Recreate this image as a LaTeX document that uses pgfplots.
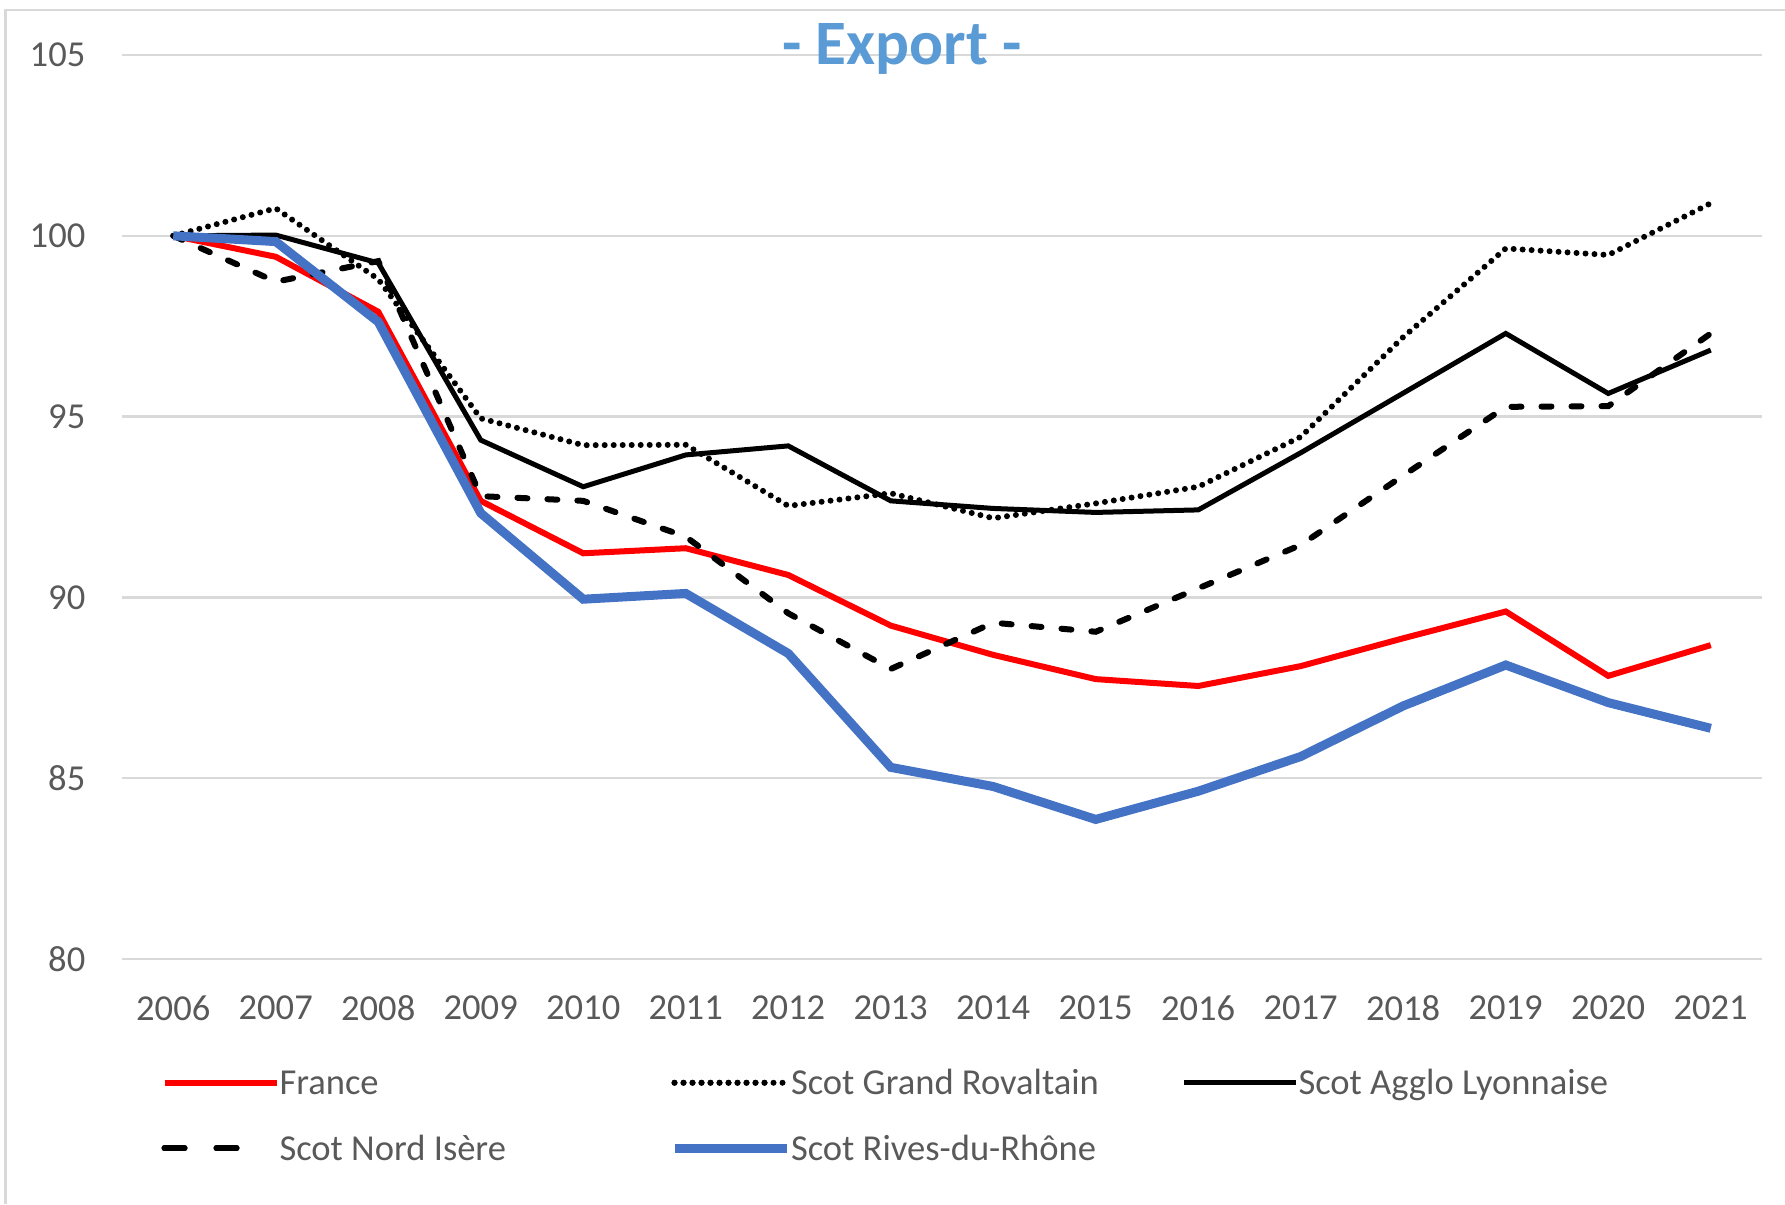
\documentclass[border=0pt]{standalone}
\usepackage{fontspec}
\setmainfont{Carlito}
\usepackage{pgfplots}
\usepackage{pgfplotstable}
\pgfplotsset{compat=1.18}
\definecolor{gridgray}{HTML}{D9D9D9}
\definecolor{ticktext}{HTML}{595959}
\definecolor{myblue}{HTML}{4472C4}
\definecolor{myred}{HTML}{FF0000}
\definecolor{titleblue}{HTML}{5B9BD5}
\newcommand{\lgt}[1]{\makebox[39.05mm][l]{\vrule height 3.1mm depth 0.75mm width 0pt #1}}
\pgfplotstableread{
year fr gr al ni rr
2006 100.00 100.00 100.00 100.00 100.00
2007 99.42 100.76 100.02 98.73 99.84
2008 97.90 98.80 99.25 99.30 97.62
2009 92.67 94.95 94.35 92.80 92.33
2010 91.22 94.21 93.06 92.67 89.95
2011 91.36 94.22 93.94 91.68 90.11
2012 90.62 92.53 94.19 89.56 88.45
2013 89.22 92.88 92.67 88.02 85.30
2014 88.41 92.19 92.46 89.30 84.77
2015 87.74 92.60 92.35 89.05 83.86
2016 87.55 93.06 92.42 90.25 84.64
2017 88.10 94.44 94.00 91.45 85.60
2018 88.87 97.20 95.65 93.37 87.00
2019 89.61 99.65 97.30 95.27 88.13
2020 87.83 99.47 95.64 95.29 87.09
2021 88.68 100.90 96.84 97.30 86.38
}\data
\begin{document}
\begin{tikzpicture}
\useasboundingbox (0,0) rectangle (178.5mm,120.4mm);
\draw[gridgray, line width=0.25mm] (0.55mm,0) -- (0.55mm,119.4mm) -- (178.5mm,119.4mm);
\begin{axis}[
  at={(12.2mm,24.5mm)}, anchor=south west,
  scale only axis, width=164mm, height=90.4mm,
  xmin=2005.5, xmax=2021.5, ymin=80, ymax=105,
  xtick={2006,2007,...,2021}, ytick={80,85,...,105},
  axis line style={draw=none},
  major tick length=0pt,
  ymajorgrids,
  major grid style={gridgray, line width=0.25mm},
  /pgf/number format/1000 sep={},
  /pgf/number format/assume math mode=true,
  ticklabel style={font=\fontsize{10.4}{12.5}\selectfont, text=ticktext, inner sep=0pt},
  yticklabel style={anchor=east, xshift=-3.6mm},
  xticklabel style={anchor=north, yshift=-3.6mm},
  clip=false,
  legend columns=3,
  legend style={at={(rel axis cs:0,0)}, anchor=north west, xshift=3.95mm, yshift=-10.45mm,
    draw=none, fill=none, inner sep=0pt, outer sep=0pt, row sep=2.71mm, column sep=0pt,
    font=\fontsize{10.4}{12.5}\selectfont, text=ticktext,
    nodes={inner sep=0pt, text depth={}},
    cells={anchor=west}},
  legend image code/.code={\draw[#1] (0mm,0mm) -- (9.5mm,0mm); \path (0mm,0mm) -- (11.2mm,0mm);},
]
\addplot[myred, line width=0.6mm] table[x=year,y=fr] {\data};
\addlegendentry{\lgt{France}}
\addplot[black, line width=0.6mm, line cap=round, dash pattern=on 0pt off 0.9mm] table[x=year,y=gr] {\data};
\addlegendentry{\lgt{Scot Grand Rovaltain}}
\addplot[black, line width=0.5mm] table[x=year,y=al] {\data};
\addlegendentry{\lgt{Scot Agglo Lyonnaise}}
\addplot[black, line width=0.6mm, line cap=round, dash pattern=on 1.0mm off 2.0mm, forget plot] table[x=year,y=ni] {\data};
\addlegendimage{black, line width=0.6mm, line cap=round, dash pattern=on 2.0mm off 3.2mm on 2.0mm off 10mm}
\addlegendentry{\lgt{Scot Nord Isère}}
\addplot[myblue, line width=0.9mm] table[x=year,y=rr] {\data};
\addlegendentry{\lgt{Scot Rives-du-Rhône}}
\end{axis}
\node[anchor=base, font=\fontsize{18}{21}\selectfont\bfseries, text=titleblue, inner sep=0pt] at (90.2mm,113.9mm) {- Export -};
\end{tikzpicture}
\end{document}
